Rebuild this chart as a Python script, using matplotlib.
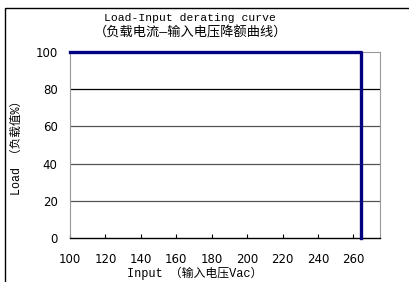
import matplotlib
matplotlib.use("Agg")
import matplotlib.pyplot as plt
from matplotlib.patches import Rectangle

# derating curve: full load up to 264 Vac
input_vac = [100, 264, 264]
load_pct = [100, 100, 0]
x_ticks = [100, 120, 140, 160, 180, 200, 220, 240, 260]
y_ticks = [0, 20, 40, 60, 80, 100]
grid_levels = [20, 40, 60, 80]

mono_cjk = ['Liberation Mono', 'Noto Sans CJK SC']

fig = plt.figure(figsize=(4.10, 2.82), dpi=100)
ax = fig.add_axes([70 / 410, 44 / 282, 310 / 410, 186 / 282])

for g in grid_levels:
    ax.axhline(g, color='#555555' if g < 80 else 'black', lw=0.9, zorder=1)

ax.plot(input_vac, load_pct, color='#000080', lw=2.4, zorder=3, clip_on=False)

ax.set_xlim(100, 275)
ax.set_ylim(0, 100)
ax.set_xticks(x_ticks)
ax.set_yticks(y_ticks)
ax.tick_params(axis='x', direction='in', length=3, width=0.8, pad=11, labelsize=8.5)
ax.tick_params(axis='y', length=0, pad=9, labelsize=8.5)

for side in ['left', 'top', 'right']:
    ax.spines[side].set_color('#999999')
    ax.spines[side].set_linewidth(0.8)
ax.spines['bottom'].set_color('black')
ax.spines['bottom'].set_linewidth(1.0)

fig.text(190 / 410, 1 - 18 / 282, 'Load-Input derating curve', ha='center', va='center',
         family=mono_cjk, fontsize=8.2)
fig.text(191 / 410, 1 - 33 / 282, '（负载电流—输入电压降额曲线）', ha='center', va='center',
         family=mono_cjk, fontsize=9.5)
fig.text(195 / 410, 1 - 273 / 282, 'Input （输入电压Vac）', ha='center', va='center',
         family=mono_cjk, fontsize=8.6)
fig.text(17 / 410, 1 - 145 / 282, 'Load （负载值%）', ha='center', va='center',
         rotation=90, family=mono_cjk, fontsize=8.4)

# outer frame, cut by the image edges
fig.patches.append(Rectangle((5 / 410, -0.2), 1.5, 1 - 8 / 282 + 0.2,
                             transform=fig.transFigure, fill=False,
                             edgecolor='black', lw=1.0))

fig.savefig('out.png', dpi=100)
